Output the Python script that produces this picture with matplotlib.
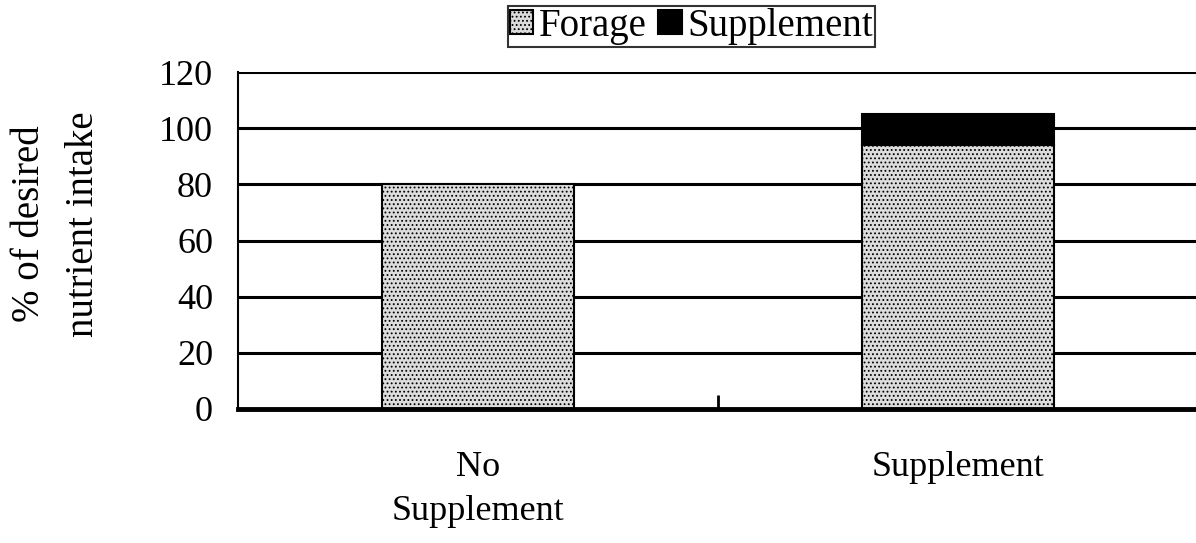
import matplotlib
matplotlib.use('Agg')
import matplotlib.pyplot as plt
import numpy

categories = ['No\nSupplement', 'Supplement']
forage = [80, 94]
supplement = [0, 11]

plt.rcParams['font.family'] = ['Liberation Serif', 'DejaVu Serif']
plt.rcParams['hatch.color'] = '#9a9a9a'
plt.rcParams['hatch.linewidth'] = 0.8

figure = plt.figure(figsize=(11.96, 5.43), dpi=100)
plot = figure.add_axes([0.199, 0.247, 0.803, 0.62])

x = numpy.arange(len(categories))
for v in range(20, 121, 20):
    plot.axhline(v, color='black', linewidth=2.2, zorder=1)

plot.bar(x, forage, width=0.4, color='#dcdcdc', hatch='....', edgecolor='black',
         linewidth=1.5, label='Forage', zorder=2)
plot.bar(x[1:], supplement[1:], bottom=forage[1:], width=0.4, color='black',
         edgecolor='black', linewidth=1.5, label='Supplement', zorder=2)

plot.set_xlim(-0.5, 1.5)
plot.set_ylim(0, 120)
plot.set_yticks(range(0, 121, 20))
plot.set_xticks([0.5, 1.5])
plot.set_xticklabels(['', ''])
plot.tick_params(axis='x', direction='in', length=10, width=2)
plot.tick_params(axis='y', length=0, labelsize=26, pad=18)
for i, c in enumerate(categories):
    plot.text(i, -15, c, ha='center', va='top', fontsize=26, linespacing=1.45)

plot.spines['left'].set_linewidth(1.5)
plot.spines['right'].set_visible(False)
plot.spines['top'].set_visible(False)
plot.spines['bottom'].set_linewidth(3.5)

plot.set_ylabel('% of desired\nnutrient intake', fontsize=28, linespacing=1.6)
plot.yaxis.set_label_coords(-0.142, 0.55)

legend = figure.legend(loc='upper center', bbox_to_anchor=(0.578, 1.0), ncol=2,
                       fontsize=28, frameon=True, fancybox=False, edgecolor='black',
                       handlelength=0.6, handleheight=0.6, handletextpad=0.15,
                       columnspacing=0.3, borderpad=0.05, borderaxespad=0.15)
legend.get_frame().set_linewidth(1.5)

figure.savefig('out.png', dpi=100)
